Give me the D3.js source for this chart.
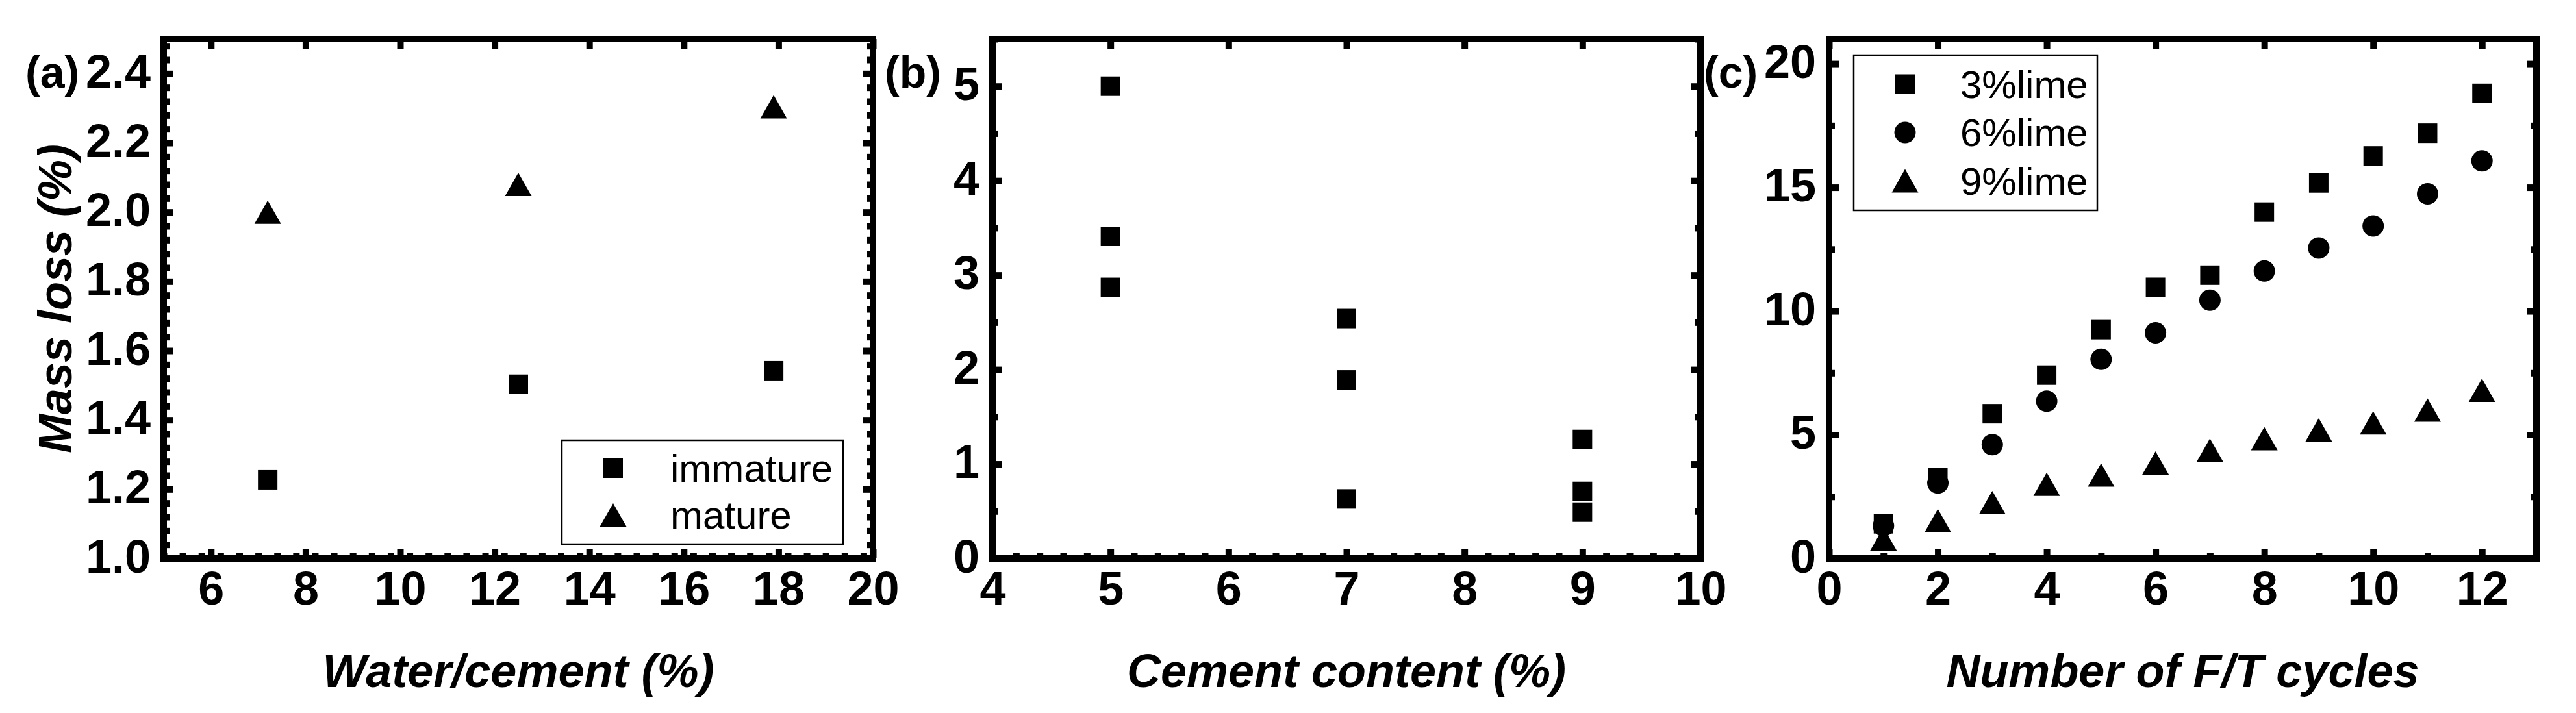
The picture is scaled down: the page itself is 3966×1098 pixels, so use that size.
<!DOCTYPE html>
<html>
<head>
<meta charset="utf-8">
<script src="https://cdn.jsdelivr.net/npm/d3@7"></script>
<style>
  html, body { margin: 0; padding: 0; background: #fff; }
  svg { display: block; }
  text { font-family: "Liberation Sans", Arial, sans-serif; fill: #000; }
</style>
</head>
<body>
<svg id="chart" width="3966" height="1098"></svg>
<script>
// ---------------- DATA ----------------
// Panel (a): mass loss vs water/cement
const aWaterCement = [7.2, 12.5, 17.9];
const aImmature = [1.227, 1.503, 1.542];
const aMature = [2.0, 2.08, 2.304];
const aXTicks = [6, 8, 10, 12, 14, 16, 18, 20];
const aYTicks = [1.0, 1.2, 1.4, 1.6, 1.8, 2.0, 2.2, 2.4];

// Panel (b): mass loss vs cement content
const bCement = [5, 5, 5, 7, 7, 7, 9, 9, 9];
const bLoss = [5.0, 3.41, 2.87, 2.54, 1.89, 0.63, 1.26, 0.71, 0.49];
const bXTicks = [4, 5, 6, 7, 8, 9, 10];
const bYTicks = [0, 1, 2, 3, 4, 5];

// Panel (c): mass loss vs number of F/T cycles
const cCycles = [1, 2, 3, 4, 5, 6, 7, 8, 9, 10, 11, 12];
const cLime3 = [1.40, 3.27, 5.85, 7.41, 9.25, 10.96, 11.45, 14.0, 15.18, 16.27, 17.19, 18.8];
const cLime6 = [1.32, 3.05, 4.60, 6.36, 8.05, 9.12, 10.44, 11.62, 12.55, 13.44, 14.74, 16.07];
const cLime9 = [0.79, 1.53, 2.26, 3.0, 3.37, 3.86, 4.38, 4.84, 5.2, 5.48, 6.0, 6.8];
const cXTicks = [0, 2, 4, 6, 8, 10, 12];
const cYTicks = [0, 5, 10, 15, 20];

const aLegend = ["immature", "mature"];
const cLegend = ["3%lime", "6%lime", "9%lime"];

// ---------------- DRAWING ----------------
const svg = d3.select("#chart");
svg.append("rect").attr("width", 3966).attr("height", 1098).attr("fill", "#fff");

const FONT_TICK = 72;
const FONT_TITLE = 72;
const FONT_LEG = 60;

const TRI_W = 41, TRI_H = 36, SQ = 30, CIR_R = 16.5;

function marker(g, type, cx, cy) {
  if (type === "square") {
    g.append("rect").attr("x", cx - SQ / 2).attr("y", cy - SQ / 2)
      .attr("width", SQ).attr("height", SQ).attr("fill", "#000");
  } else if (type === "triangle") {
    g.append("path")
      .attr("d", `M${cx - TRI_W / 2},${cy + TRI_H / 2}L${cx + TRI_W / 2},${cy + TRI_H / 2}L${cx},${cy - TRI_H / 2}Z`)
      .attr("fill", "#000");
  } else {
    g.append("circle").attr("cx", cx).attr("cy", cy).attr("r", CIR_R).attr("fill", "#000");
  }
}

function minorValues(lo, hi, step, majors) {
  return d3.range(lo, hi + step / 2, step).filter(v => !majors.some(m => Math.abs(m - v) < step / 10));
}

function styleAxis(g) {
  g.select(".domain").remove();
  g.selectAll("line").attr("stroke", "#000").attr("stroke-width", 10);
}

function drawPanel(p) {
  const g = svg.append("g");
  const x = d3.scaleLinear().domain(p.xDomain).range([p.x0, p.x1]);
  const y = d3.scaleLinear().domain(p.yDomain).range([p.y1, p.y0]);
  const xMin = minorValues(p.xDomain[0], p.xDomain[1], p.xMinorStep, p.xTicks);
  const yMin = minorValues(p.yDomain[0], p.yDomain[1], p.yMinorStep, p.yTicks);

  // bottom
  g.append("g").attr("transform", `translate(0,${p.y1})`)
    .call(d3.axisBottom(x).tickValues(xMin).tickSize(-9).tickFormat(""))
    .call(styleAxis);
  g.append("g").attr("transform", `translate(0,${p.y1})`)
    .call(d3.axisBottom(x).tickValues(p.xTicks).tickSize(-15).tickFormat(p.xFmt))
    .call(styleAxis)
    .call(s => s.selectAll("text").attr("y", 71).attr("dy", null)
      .attr("font-size", FONT_TICK).attr("font-weight", "bold")
      .attr("font-family", "Liberation Sans, Arial, sans-serif").attr("fill", "#000"));
  // top (major only)
  g.append("g").attr("transform", `translate(0,${p.y0})`)
    .call(d3.axisTop(x).tickValues(p.xTicks).tickSize(-15).tickFormat(""))
    .call(styleAxis);
  // left
  g.append("g").attr("transform", `translate(${p.x0},0)`)
    .call(d3.axisLeft(y).tickValues(yMin).tickSize(-9).tickFormat(""))
    .call(styleAxis);
  g.append("g").attr("transform", `translate(${p.x0},0)`)
    .call(d3.axisLeft(y).tickValues(p.yTicks).tickSize(-15).tickFormat(p.yFmt))
    .call(styleAxis)
    .call(s => s.selectAll("text").attr("x", -20).attr("y", 21).attr("dy", null)
      .attr("text-anchor", "end")
      .attr("font-size", FONT_TICK).attr("font-weight", "bold")
      .attr("font-family", "Liberation Sans, Arial, sans-serif").attr("fill", "#000"));
  // right
  g.append("g").attr("transform", `translate(${p.x1},0)`)
    .call(d3.axisRight(y).tickValues(yMin).tickSize(-9).tickFormat(""))
    .call(styleAxis);
  g.append("g").attr("transform", `translate(${p.x1},0)`)
    .call(d3.axisRight(y).tickValues(p.yTicks).tickSize(-15).tickFormat(""))
    .call(styleAxis);

  // frame
  g.append("rect").attr("x", p.x0).attr("y", p.y0)
    .attr("width", p.x1 - p.x0).attr("height", p.y1 - p.y0)
    .attr("fill", "none").attr("stroke", "#000").attr("stroke-width", 10);

  // x title
  g.append("text").attr("x", (p.x0 + p.x1) / 2).attr("y", 1058)
    .attr("text-anchor", "middle").attr("font-size", FONT_TITLE)
    .attr("font-weight", "bold").attr("font-style", "italic").text(p.xTitle);

  // panel label
  g.append("text").attr("x", p.labelX).attr("y", 135)
    .attr("font-size", 68).attr("font-weight", "bold").text(p.label);

  // series
  p.series.forEach(s => {
    const sg = g.append("g");
    s.xs.forEach((xv, i) => marker(sg, s.type, x(xv), y(s.ys[i])));
  });
  return { x, y, g };
}

// Panel (a)
const pa = drawPanel({
  x0: 252, x1: 1344, y0: 60, y1: 860,
  xDomain: [5, 20], yDomain: [1.0, 2.5],
  xTicks: aXTicks, yTicks: aYTicks, xMinorStep: 0.4, yMinorStep: 0.04,
  xFmt: d3.format("d"), yFmt: d3.format(".1f"),
  xTitle: "Water/cement (%)", label: "(a)", labelX: 39,
  series: [
    { type: "square", xs: aWaterCement, ys: aImmature },
    { type: "triangle", xs: aWaterCement, ys: aMature }
  ]
});

// y title (shared, only on panel a)
svg.append("text")
  .attr("transform", "translate(110,460) rotate(-90)")
  .attr("text-anchor", "middle").attr("font-size", FONT_TITLE)
  .attr("font-weight", "bold").attr("font-style", "italic").text("Mass loss (%)");

// Legend (a)
{
  const lg = svg.append("g");
  lg.append("rect").attr("x", 865).attr("y", 678).attr("width", 433).attr("height", 160)
    .attr("fill", "#fff").attr("stroke", "#000").attr("stroke-width", 2.5);
  const types = ["square", "triangle"];
  aLegend.forEach((t, i) => {
    const cy = 721 + i * 72;
    marker(lg, types[i], 944, cy);
    lg.append("text").attr("x", 1032).attr("y", cy + 21).attr("font-size", FONT_LEG).text(t);
  });
}

// Panel (b)
drawPanel({
  x0: 1528, x1: 2618, y0: 60, y1: 860,
  xDomain: [4, 10], yDomain: [0, 5.5],
  xTicks: bXTicks, yTicks: bYTicks, xMinorStep: 0.2, yMinorStep: 0.5,
  xFmt: d3.format("d"), yFmt: d3.format("d"),
  xTitle: "Cement content (%)", label: "(b)", labelX: 1362,
  series: [
    { type: "square", xs: bCement, ys: bLoss }
  ]
});

// Panel (c)
drawPanel({
  x0: 2816, x1: 3905, y0: 60, y1: 860,
  xDomain: [0, 13], yDomain: [0, 21],
  xTicks: cXTicks, yTicks: cYTicks, xMinorStep: 1, yMinorStep: 2.5,
  xFmt: d3.format("d"), yFmt: d3.format("d"),
  xTitle: "Number of F/T cycles", label: "(c)", labelX: 2623,
  series: [
    { type: "square", xs: cCycles, ys: cLime3 },
    { type: "circle", xs: cCycles, ys: cLime6 },
    { type: "triangle", xs: cCycles, ys: cLime9 }
  ]
});

// Legend (c)
{
  const lg = svg.append("g");
  lg.append("rect").attr("x", 2854).attr("y", 85).attr("width", 375).attr("height", 239)
    .attr("fill", "#fff").attr("stroke", "#000").attr("stroke-width", 2.5);
  const types = ["square", "circle", "triangle"];
  cLegend.forEach((t, i) => {
    const cy = 129.5 + i * 74.5;
    marker(lg, types[i], 2933, cy);
    lg.append("text").attr("x", 3018).attr("y", cy + 21).attr("font-size", FONT_LEG).text(t);
  });
}
</script>
</body>
</html>
